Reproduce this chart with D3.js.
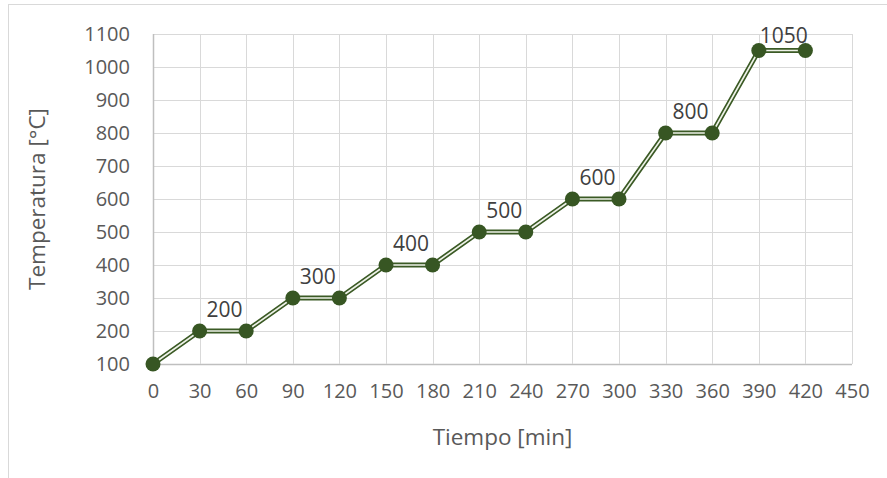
<!DOCTYPE html>
<html>
<head>
<meta charset="utf-8">
<script src="https://cdn.jsdelivr.net/npm/d3@7"></script>
<style>
  html, body { margin: 0; padding: 0; background: #fff; }
  svg { display: block; }
  text { font-family: "Open Sans", sans-serif; }
</style>
</head>
<body>
<script>
// Heating schedule: time (min) vs. furnace temperature (°C)
const tiempo = [0, 30, 60, 90, 120, 150, 180, 210, 240, 270, 300, 330, 360, 390, 420];
const temperatura = [100, 200, 200, 300, 300, 400, 400, 500, 500, 600, 600, 800, 800, 1050, 1050];
// Points that carry a value label (index into the series)
const labelledIdx = [1, 3, 5, 7, 9, 11, 13];
const xTicks = [0, 30, 60, 90, 120, 150, 180, 210, 240, 270, 300, 330, 360, 390, 420, 450];
const yTicks = [100, 200, 300, 400, 500, 600, 700, 800, 900, 1000, 1100];

const W = 887, H = 478;
const plot = { left: 153, right: 852, top: 34, bottom: 364 };

const svg = d3.select("body").append("svg").attr("width", W).attr("height", H);

// chart frame
svg.append("rect")
  .attr("x", 8.5).attr("y", 4.5)
  .attr("width", W + 10).attr("height", H + 10)
  .attr("fill", "#fff").attr("stroke", "#d9d9d9").attr("stroke-width", 1);

const x = d3.scaleLinear().domain([0, 450]).range([plot.left, plot.right]);
const y = d3.scaleLinear().domain([100, 1100]).range([plot.bottom, plot.top]);

// gridlines
svg.append("g").selectAll("line").data(yTicks).join("line")
  .attr("x1", plot.left).attr("x2", plot.right)
  .attr("y1", d => Math.round(y(d)) + 0.5).attr("y2", d => Math.round(y(d)) + 0.5)
  .attr("stroke", d => d === 100 ? "#bfbfbf" : "#d9d9d9").attr("stroke-width", d => d === 100 ? 1.5 : 1);
svg.append("g").selectAll("line").data(xTicks).join("line")
  .attr("y1", plot.top).attr("y2", plot.bottom)
  .attr("x1", d => Math.round(x(d)) + 0.5).attr("x2", d => Math.round(x(d)) + 0.5)
  .attr("stroke", d => d === 0 ? "#bfbfbf" : "#d9d9d9").attr("stroke-width", d => d === 0 ? 1.5 : 1);

// axes (labels only, lines drawn as gridlines)
const xAxis = svg.append("g")
  .attr("transform", `translate(0,${plot.bottom + 20})`)
  .call(d3.axisBottom(x).tickValues(xTicks).tickFormat(d3.format("d")).tickSize(0).tickPadding(0));
xAxis.select(".domain").remove();
xAxis.selectAll("text").attr("font-size", 20).attr("fill", "#595959")
  .attr("font-family", "Open Sans, sans-serif").attr("dy", "0.71em");

const yAxis = svg.append("g")
  .attr("transform", `translate(${plot.left - 23},0)`)
  .call(d3.axisLeft(y).tickValues(yTicks).tickFormat(d3.format("d")).tickSize(0).tickPadding(0));
yAxis.select(".domain").remove();
yAxis.selectAll("text").attr("font-size", 20).attr("fill", "#595959")
  .attr("font-family", "Open Sans, sans-serif");

// axis titles
svg.append("text")
  .attr("x", (plot.left + plot.right) / 2).attr("y", 436)
  .attr("text-anchor", "middle").attr("dominant-baseline", "central")
  .attr("font-size", 22.5).attr("fill", "#595959")
  .text("Tiempo [min]");
svg.append("text")
  .attr("transform", `translate(36,${(plot.top + plot.bottom) / 2}) rotate(-90)`)
  .attr("text-anchor", "middle").attr("dominant-baseline", "central")
  .attr("font-size", 22.5).attr("fill", "#595959")
  .text("Temperatura [°C]");

// series line: dark green with a light core
const pts = tiempo.map((t, i) => [t, temperatura[i]]);
const line = d3.line().x(d => x(d[0])).y(d => y(d[1]));
svg.append("path").datum(pts).attr("d", line)
  .attr("fill", "none").attr("stroke", "#3b5a25").attr("stroke-width", 5)
  .attr("stroke-linejoin", "round");
svg.append("path").datum(pts).attr("d", line)
  .attr("fill", "none").attr("stroke", "#eef2e8").attr("stroke-width", 1.6)
  .attr("stroke-linejoin", "round");

// markers
svg.append("g").selectAll("circle").data(pts).join("circle")
  .attr("cx", d => x(d[0])).attr("cy", d => y(d[1])).attr("r", 7.5)
  .attr("fill", "#375623");

// value labels
svg.append("g").selectAll("text").data(labelledIdx).join("text")
  .attr("x", i => x(tiempo[i]) + 25)
  .attr("y", i => Math.max(y(temperatura[i]) - 22, 35))
  .attr("text-anchor", "middle").attr("dominant-baseline", "central")
  .attr("font-size", 21).attr("fill", "#404040")
  .text(i => temperatura[i]);
</script>
</body>
</html>
